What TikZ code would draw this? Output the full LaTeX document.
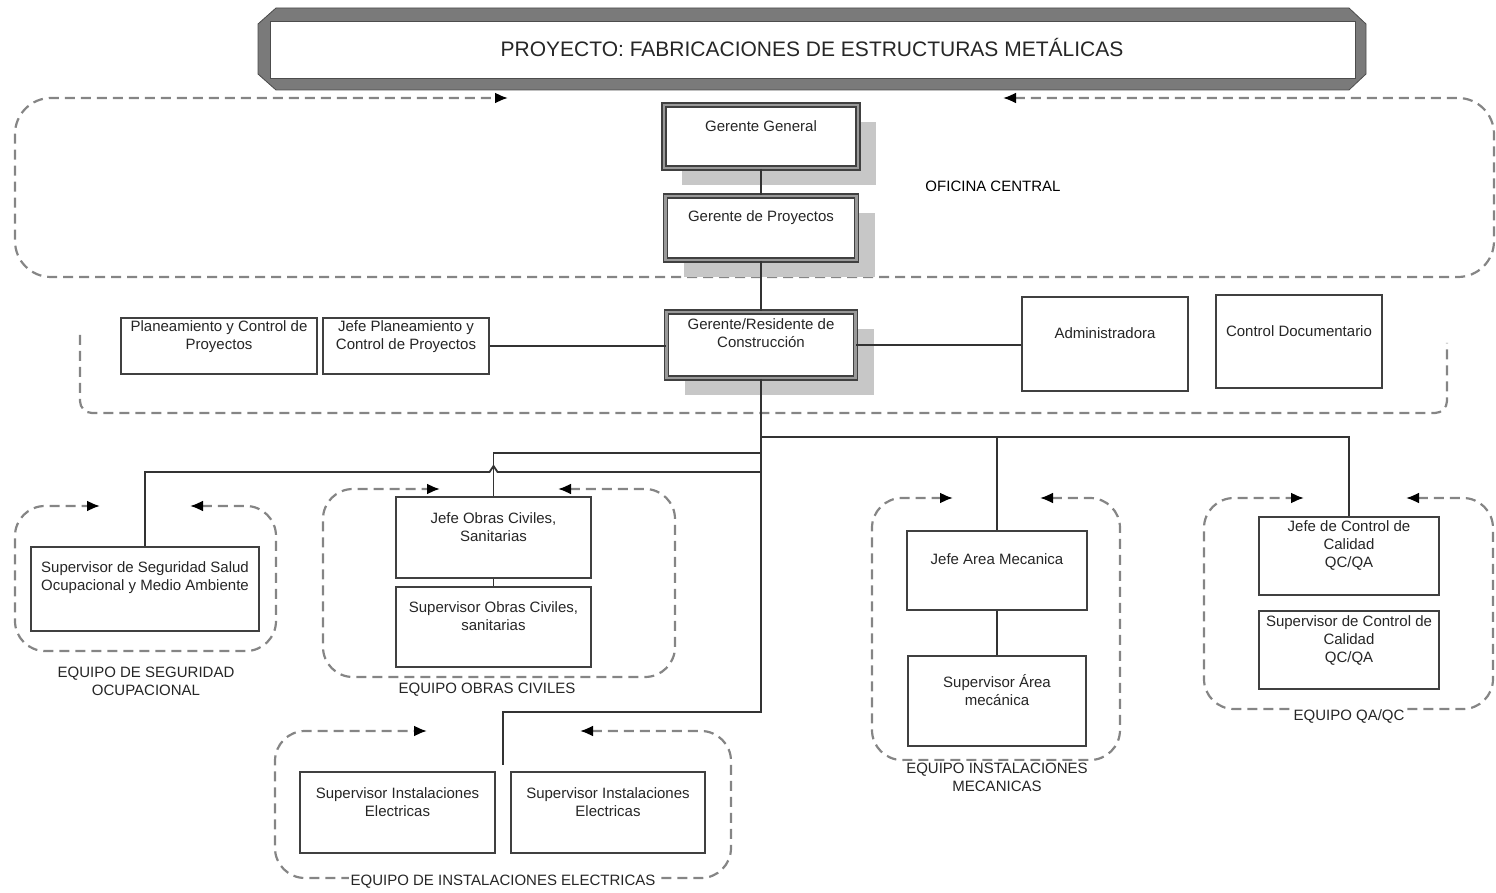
\documentclass[tikz,border=0pt]{standalone}
\usepackage{fontspec}
\setmainfont{Liberation Sans}
\usetikzlibrary{positioning, arrows.meta, shadows}

\begin{document}
\begin{tikzpicture}[
    % GLOBAL CFG
    x=0.5pt, y=-0.5pt,
    font=\fontsize{7.5}{9}\selectfont,
    >={Latex[black,length=6.5pt,width=5.5pt]},
    % Styles
    mgr/.style={% managers, double frame and shadow
        rectangle,
        draw=black!75,
        line width=0.9pt,
        double=black!40,
        double distance=1.1pt,
        fill=white,
        drop shadow={shadow xshift=9pt, shadow yshift=-8.5pt, fill=black!22, opacity=1},
        },
    role/.style={% plain boxes
        rectangle,
        draw=black!75,
        line width=0.9pt,
        fill=white,
        },
    boxtxt/.style={% text hanging from the top of a box
        anchor=north,
        align=center,
        inner sep=0pt,
        text=black!85,
        },
    team/.style={% dashed team frames
        draw=black!48,
        line width=1.1pt,
        dash pattern=on 5pt off 3pt,
        rounded corners=15pt,
        },
    teamlbl/.style={% team names
        align=center,
        inner sep=1pt,
        fill=white,
        text=black!85,
        },
    link/.style={% solid connectors
        draw=black!80,
        line width=0.9pt,
        },
    ]
\useasboundingbox (0,0) rectangle (1496,893);

% Title frame
\fill[black!52, draw=black!70, line width=0.4pt] (276,8) -- (1349,8) -- (1366,24) -- (1366,74)
    -- (1349,90) -- (276,90) -- (258,74) -- (258,24) -- cycle;
\fill[white, draw=black!70, line width=0.4pt] (270,21) rectangle (1355,78);
\node[font=\fontsize{10.5}{12}\selectfont, text=black!85] (title) at (812,48)
    {PROYECTO: FABRICACIONES DE ESTRUCTURAS METÁLICAS};

% Dashed frames
\draw[team, rounded corners=18pt, <->] (1003,98) -| (1494,277) -| (15,98) -- (508,98);
\draw[team, rounded corners=6pt] (80,335) |- (1447,413) -- (1447,343);
\draw[team, <->] (190,506) -| (276,651) -| (15,506) -- (100,506);
\draw[team, <->] (558,489) -| (675,677) -| (323,489) -- (440,489);
\draw[team, <->] (580,731) -| (731,878) -| (275,731) -- (427,731);
\draw[team, <->] (1040,498) -| (1120,760) -| (872,498) -- (953,498);
\draw[team, <->] (1406,498) -| (1493,709) -| (1204,498) -- (1304,498);

\node (ofc) at (993,186) {OFICINA CENTRAL};

% Central office
\node[mgr, minimum width=97pt, minimum height=31.5pt,
    label={[boxtxt,yshift=-8pt]north:Gerente General}] (gg) at (761,136.5) {};
\node[mgr, minimum width=95.5pt, minimum height=32pt,
    label={[boxtxt,yshift=-7.7pt]north:Gerente de Proyectos}] (gp) at (761,228) {};
\node[mgr, minimum width=94.5pt, minimum height=33pt,
    label={[boxtxt,yshift=-3.7pt]north:{Gerente/Residente de\\Construcción}}] (grc) at (761,345) {};

% Staff row
\node[role, minimum width=98pt, minimum height=28pt,
    label={[boxtxt,yshift=-1.5pt]north:{Planeamiento y Control de\\Proyectos}}] (plan) at (219,346) {};
\node[role, minimum width=83pt, minimum height=28pt,
    label={[boxtxt,yshift=-1.5pt]north:{Jefe Planeamiento y\\Control de Proyectos}}] (jplan) at (406,346) {};
\node[role, minimum width=83pt, minimum height=47pt,
    label={[boxtxt,yshift=-15.7pt]north:Administradora}] (admin) at (1105,344) {};
\node[role, minimum width=83pt, minimum height=46.5pt,
    label={[boxtxt,yshift=-15.7pt]north:Control Documentario}] (cdoc) at (1299,341.5) {};

% Teams
\node[role, minimum width=114pt, minimum height=42pt,
    label={[boxtxt,yshift=-7.7pt]north:{Supervisor de Seguridad Salud\\Ocupacional y Medio Ambiente}}] (seg) at (145,589) {};
\node[role, minimum width=97.5pt, minimum height=40.5pt,
    label={[boxtxt,yshift=-8.2pt]north:{Jefe Obras Civiles,\\Sanitarias}}] (jobras) at (493.5,537.5) {};
\node[role, minimum width=97.5pt, minimum height=40pt,
    label={[boxtxt,yshift=-7.7pt]north:{Supervisor Obras Civiles,\\sanitarias}}] (sobras) at (493.5,627) {};
\node[role, minimum width=97.5pt, minimum height=40.5pt,
    label={[boxtxt,yshift=-8.2pt]north:{Supervisor Instalaciones\\Electricas}}] (elec1) at (397.5,812.5) {};
\node[role, minimum width=97pt, minimum height=40.5pt,
    label={[boxtxt,yshift=-8.2pt]north:{Supervisor Instalaciones\\Electricas}}] (elec2) at (608,812.5) {};
\node[role, minimum width=90pt, minimum height=39.5pt,
    label={[boxtxt,yshift=-11.7pt]north:Jefe Area Mecanica}] (jmec) at (997,570.5) {};
\node[role, minimum width=89pt, minimum height=45pt,
    label={[boxtxt,yshift=-9.7pt]north:{Supervisor Área\\mecánica}}] (smec) at (997,701) {};
\node[role, minimum width=90pt, minimum height=39pt,
    label={[boxtxt,yshift=-2.2pt]north:{Jefe de Control de\\Calidad\\QC/QA}}] (jqc) at (1349,556) {};
\node[role, minimum width=90pt, minimum height=39pt,
    label={[boxtxt,yshift=-2.7pt]north:{Supervisor de Control de\\Calidad\\QC/QA}}] (sqc) at (1349,650) {};

% Team names
\node[teamlbl] (lblseg) at (146,681.5) {EQUIPO DE SEGURIDAD\\OCUPACIONAL};
\node[teamlbl] (lblobras) at (487,690) {EQUIPO OBRAS CIVILES};
\node[teamlbl] (lblelec) at (503,882) {EQUIPO DE INSTALACIONES ELECTRICAS};
\node[teamlbl] (lblmec) at (997,777) {EQUIPO INSTALACIONES\\MECANICAS};
\node[teamlbl] (lblqc) at (1349,716) {EQUIPO QA/QC};

% Connectors
\coordinate (j1) at (761,437);
\coordinate (j2) at (761,453);
\coordinate (j3) at (761,472);
\coordinate (j4) at (761,712);
\coordinate (eend) at (503,765);

\draw[link] (gg) -- (gp);
\draw[link] (gp) -- (grc);
\draw[link] (jplan) -- (jplan -| grc.west);
\draw[link] (grc) -- (grc -| admin.west);
\draw[link] (grc) -- (j4) -| (eend);
\draw[link] (j1) -| (jqc);
\draw[link] (j1 -| jmec) -- (jmec);
\draw[link] (j2) -| (jobras);
\draw[link] (j3) -- (497.5,472) -- (493.5,466) -- (489.5,472) -| (seg);
\draw[link] (jobras) -- (sobras);
\draw[link] (jmec) -- (smec);

\end{tikzpicture}
\end{document}
